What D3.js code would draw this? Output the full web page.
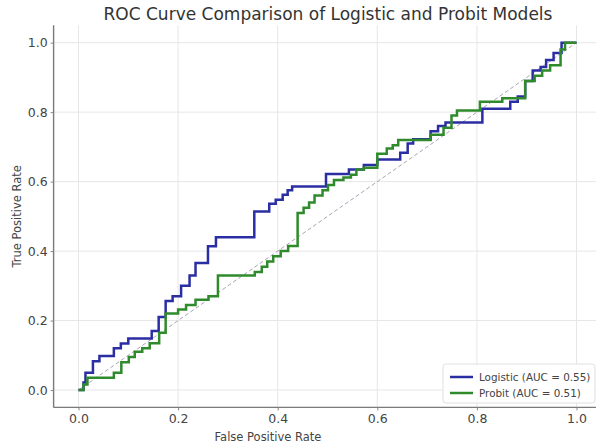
<!DOCTYPE html>
<html>
<head>
<meta charset="utf-8">
<script src="https://cdn.jsdelivr.net/npm/d3@7"></script>
<style>
  body { margin: 0; background: #fff; }
  svg { display: block; font-family: "DejaVu Sans", sans-serif; }
  .tick text { fill: #444; }
</style>
</head>
<body>
<svg id="chart" width="596" height="445"></svg>
<script>
// roc points (fpr, tpr), step after each point
const logisticFpr = [0, 0.010, 0.014, 0.029, 0.042, 0.071, 0.085, 0.100, 0.147, 0.161, 0.175, 0.189, 0.206, 0.223, 0.235, 0.260, 0.276, 0.353, 0.383, 0.396, 0.410, 0.420, 0.429, 0.497, 0.543, 0.573, 0.600, 0.646, 0.661, 0.672, 0.707, 0.722, 0.737, 0.811, 0.867, 0.882, 0.897, 0.912, 0.928, 0.939, 0.954, 0.970, 1];
const logisticTpr = [0, 0.022, 0.050, 0.083, 0.098, 0.120, 0.134, 0.148, 0.170, 0.210, 0.256, 0.270, 0.300, 0.330, 0.366, 0.414, 0.440, 0.514, 0.536, 0.548, 0.562, 0.575, 0.586, 0.622, 0.635, 0.648, 0.664, 0.683, 0.710, 0.722, 0.745, 0.760, 0.770, 0.810, 0.830, 0.845, 0.890, 0.920, 0.930, 0.950, 0.970, 1.0, 1];

const probitFpr = [0, 0.010, 0.018, 0.071, 0.086, 0.101, 0.113, 0.128, 0.143, 0.162, 0.175, 0.200, 0.216, 0.235, 0.261, 0.280, 0.354, 0.368, 0.379, 0.391, 0.406, 0.421, 0.440, 0.452, 0.463, 0.474, 0.490, 0.501, 0.513, 0.532, 0.547, 0.558, 0.573, 0.600, 0.619, 0.631, 0.642, 0.707, 0.733, 0.749, 0.760, 0.806, 0.851, 0.897, 0.916, 0.931, 0.947, 0.968, 0.977, 1];
const probitTpr = [0, 0.016, 0.035, 0.050, 0.080, 0.095, 0.110, 0.120, 0.135, 0.165, 0.220, 0.232, 0.245, 0.260, 0.270, 0.330, 0.340, 0.355, 0.370, 0.385, 0.400, 0.415, 0.510, 0.525, 0.540, 0.560, 0.575, 0.590, 0.605, 0.612, 0.620, 0.635, 0.640, 0.680, 0.695, 0.705, 0.720, 0.735, 0.755, 0.790, 0.805, 0.830, 0.840, 0.890, 0.905, 0.920, 0.935, 0.980, 1.0, 1];

const tickValues = [0, 0.2, 0.4, 0.6, 0.8, 1.0];
const models = ["Logistic", "Probit"];
const aucs = [0.55, 0.51];

const svg = d3.select("#chart");
const x = d3.scaleLinear().domain([-0.05, 1.05]).range([53.6, 601.4]);
const y = d3.scaleLinear().domain([-0.05, 1.05]).range([407.4, 25.3]);

// grid
const grid = svg.append("g");
grid.selectAll("line.vx").data(tickValues).join("line")
    .attr("x1", d => x(d)).attr("x2", d => x(d))
    .attr("y1", y(1.05)).attr("y2", y(-0.05))
    .attr("stroke", "#e6e6e6").attr("stroke-width", 1);
grid.selectAll("line.hy").data(tickValues).join("line")
    .attr("y1", d => y(d)).attr("y2", d => y(d))
    .attr("x1", x(-0.05)).attr("x2", x(1.05))
    .attr("stroke", "#e6e6e6").attr("stroke-width", 1);

// diagonal reference
svg.append("line")
    .attr("x1", x(0)).attr("y1", y(0))
    .attr("x2", x(1)).attr("y2", y(1))
    .attr("stroke", "#a9a4b4").attr("stroke-width", 1)
    .attr("stroke-dasharray", "4,2.5");

const line = d3.line()
    .x(d => x(d[0]))
    .y(d => y(d[1]))
    .curve(d3.curveStepAfter);

const colors = ["#2b2ea3", "#2f8a2c"];
const series = [
    d3.zip(logisticFpr, logisticTpr),
    d3.zip(probitFpr, probitTpr)
];

series.forEach((pts, i) => {
    svg.append("path")
        .datum(pts)
        .attr("d", line)
        .attr("fill", "none")
        .attr("stroke", colors[i])
        .attr("stroke-width", 2.5)
        .attr("stroke-linejoin", "miter");
});

// axes
const xAxis = svg.append("g")
    .attr("transform", `translate(0,${y(-0.05)})`)
    .call(d3.axisBottom(x).tickValues(tickValues).tickFormat(d3.format(".1f")).tickSize(3).tickPadding(4));
const yAxis = svg.append("g")
    .attr("transform", `translate(${x(-0.05)},0)`)
    .call(d3.axisLeft(y).tickValues(tickValues).tickFormat(d3.format(".1f")).tickSize(3).tickPadding(3));

[xAxis, yAxis].forEach(a => {
    a.select(".domain").attr("stroke", "#7a7a7a").attr("stroke-width", 1.4);
    a.selectAll(".tick line").attr("stroke", "#888");
    a.selectAll(".tick text").attr("font-size", 12.5).attr("font-family", "DejaVu Sans");
});
// no spine beyond range ends
xAxis.select(".domain").attr("d", `M${x(-0.05)},0H${x(1.05)}`);
yAxis.select(".domain").attr("d", `M0,${y(-0.05)}V${y(1.05)}`);

// labels
svg.append("text")
    .attr("x", 328).attr("y", 20)
    .attr("text-anchor", "middle")
    .attr("font-size", 17)
    .attr("fill", "#333")
    .text("ROC Curve Comparison of Logistic and Probit Models");

svg.append("text")
    .attr("x", 268).attr("y", 441)
    .attr("text-anchor", "middle")
    .attr("font-size", 11.5)
    .attr("fill", "#444")
    .text("False Positive Rate");

svg.append("text")
    .attr("transform", `translate(21,${(y(-0.05) + y(1.05)) / 2}) rotate(-90)`)
    .attr("text-anchor", "middle")
    .attr("font-size", 11.5)
    .attr("fill", "#444")
    .text("True Positive Rate");

// legend
const legend = svg.append("g").attr("transform", "translate(443,364)");
legend.append("rect")
    .attr("width", 152).attr("height", 39).attr("rx", 3)
    .attr("fill", "#fff").attr("fill-opacity", 0.85)
    .attr("stroke", "#e0e0e0");
models.forEach((m, i) => {
    const row = legend.append("g").attr("transform", `translate(0,${13 + i * 16})`);
    row.append("line")
        .attr("x1", 7).attr("x2", 30)
        .attr("stroke", colors[i]).attr("stroke-width", 2.5);
    row.append("text")
        .attr("x", 36).attr("y", 3.8)
        .attr("font-size", 10.4)
        .attr("fill", "#444")
        .text(`${m} (AUC = ${aucs[i].toFixed(2)})`);
});
</script>
</body>
</html>
